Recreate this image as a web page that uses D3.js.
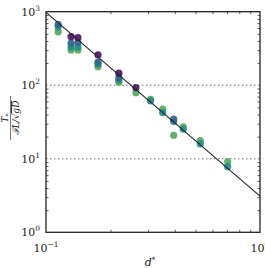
<!DOCTYPE html>
<html>
<head>
<meta charset="utf-8">
<script src="https://cdn.jsdelivr.net/npm/d3@7"></script>
<style>
    body { margin: 0; background: #fff; }
    text { font-family: "DejaVu Serif", "Liberation Serif", serif; fill: #222; }
</style>
</head>
<body>
<div id="graph"></div>
<script>
// Data
const dValues = [0.114, 0.131, 0.141, 0.175, 0.219, 0.263, 0.308, 0.351, 0.395, 0.438, 0.526, 0.706];
const purpleSeries = [null, 458, 444, 258, 146, 92.8, null, null, null, null, null, null];
const blueSeries = [672, 373, 380, 206, 127, null, null, null, 34.5, null, null, null];
const tealSeries = [621, 332, 332, 195, 118, null, 61.2, 42.4, 32, 25.2, 15.9, 7.81];
const greenSeries = [531, 302, 302, 179, 110, 79.3, 64.5, 47.2, 20.9, 27.1, 17.6, 9.13];
const yTicks = [1, 10, 100, 1000];
const yTickExp = ['0', '1', '2', '3'];
const xTicks = [0.1, 1];
const xTickExp = ['\u22121', '0'];
const fitCoef = 3.1;
const fitExp = -2.5;

const w = 265;
const h = 268;
const padL = 46, padR = 260, padT = 11.7, padB = 232.3;

const svg = d3.select('#graph')
    .append('svg')
    .attr('width', w)
    .attr('height', h);

const xScale = d3.scaleLog().domain([0.1, 1]).range([padL, padR]);
const yScale = d3.scaleLog().domain([1, 1000]).range([padB, padT]);

// dotted grid at inner decades
svg.selectAll('line.grid')
    .data([10, 100])
    .enter()
    .append('line')
    .attr('x1', padL).attr('x2', padR)
    .attr('y1', d => yScale(d)).attr('y2', d => yScale(d))
    .attr('stroke', '#444')
    .attr('stroke-width', 0.8)
    .attr('stroke-dasharray', '1.5,2.5');

// points
const series = [
    { values: greenSeries, color: '#4fa95a' },
    { values: tealSeries, color: '#23898c' },
    { values: blueSeries, color: '#33638d' },
    { values: purpleSeries, color: '#45145f' }
];

series.forEach(s => {
    const pts = dValues.map((d, i) => [d, s.values[i]]).filter(p => p[1] != null);
    svg.append('g')
        .selectAll('circle')
        .data(pts)
        .enter()
        .append('circle')
        .attr('cx', p => xScale(p[0]))
        .attr('cy', p => yScale(p[1]))
        .attr('r', 3.6)
        .attr('fill', s.color)
        .attr('fill-opacity', 0.9);
});

// fitted power law
const fitLine = d3.line()
    .x(d => xScale(d))
    .y(d => yScale(fitCoef * Math.pow(d, fitExp)));
svg.append('path')
    .datum([0.1, 1])
    .attr('d', fitLine)
    .attr('fill', 'none')
    .attr('stroke', '#222')
    .attr('stroke-width', 1.1);

// axes, ticks inward on all sides
const minorX = d3.range(2, 10).map(k => k * 0.1);
const minorY = [];
[1, 10, 100].forEach(b => d3.range(2, 10).forEach(k => minorY.push(b * k)));

const tickFmt = () => '';
svg.append('g')
    .attr('transform', `translate(0,${padB})`)
    .call(d3.axisBottom(xScale).tickValues(minorX).tickFormat(tickFmt).tickSizeInner(-2.5).tickSizeOuter(0));
svg.append('g')
    .attr('transform', `translate(0,${padT})`)
    .call(d3.axisTop(xScale).tickValues(minorX).tickFormat(tickFmt).tickSizeInner(-2.5).tickSizeOuter(0));
svg.append('g')
    .attr('transform', `translate(${padL},0)`)
    .call(d3.axisLeft(yScale).tickValues(minorY).tickFormat(tickFmt).tickSizeInner(-2.5).tickSizeOuter(0));
svg.append('g')
    .attr('transform', `translate(${padR},0)`)
    .call(d3.axisRight(yScale).tickValues(minorY).tickFormat(tickFmt).tickSizeInner(-2.5).tickSizeOuter(0));
svg.selectAll('.domain').remove();
svg.selectAll('.tick line').attr('stroke', '#333').attr('stroke-width', 0.8);

// frame
svg.append('rect')
    .attr('x', padL).attr('y', padT)
    .attr('width', padR - padL).attr('height', padB - padT)
    .attr('fill', 'none')
    .attr('stroke', '#222')
    .attr('stroke-width', 1.3);

// tick labels
yTicks.forEach((v, i) => {
    const t = svg.append('text')
        .attr('x', padL - 6)
        .attr('y', yScale(v) + 4)
        .attr('text-anchor', 'end')
        .attr('font-size', 11);
    t.append('tspan').text('10');
    t.append('tspan').attr('dy', -5).attr('font-size', 7.5).text(yTickExp[i]);
});
xTicks.forEach((v, i) => {
    const t = svg.append('text')
        .attr('x', xScale(v))
        .attr('y', 252)
        .attr('text-anchor', 'middle')
        .attr('font-size', 11);
    t.append('tspan').text('10');
    t.append('tspan').attr('dy', -5).attr('font-size', 7.5).text(xTickExp[i]);
});

// x label
const xl = svg.append('text')
    .attr('x', 150)
    .attr('y', 266)
    .attr('text-anchor', 'middle')
    .attr('font-size', 11)
    .attr('font-style', 'italic');
xl.append('tspan').text('d');
xl.append('tspan').attr('dy', -4).attr('font-size', 7).attr('font-style', 'normal').text('*');

// y label: fraction, rotated
const yl = svg.append('g')
    .attr('transform', 'translate(11,118) rotate(-90)');
const num = yl.append('text')
    .attr('x', 0).attr('y', -3)
    .attr('text-anchor', 'middle')
    .attr('font-size', 9)
    .attr('font-style', 'italic');
num.append('tspan').text('T');
num.append('tspan').attr('dy', 2).attr('font-size', 6).attr('font-style', 'normal').text('*');
yl.append('line')
    .attr('x1', -22).attr('x2', 22)
    .attr('y1', -0.5).attr('y2', -0.5)
    .attr('stroke', '#222').attr('stroke-width', 0.6);
const den = yl.append('text')
    .attr('x', 0).attr('y', 8)
    .attr('text-anchor', 'middle')
    .attr('font-size', 9)
    .attr('font-style', 'italic');
den.append('tspan').text('\u2131L/\u221A');
den.append('tspan').attr('text-decoration', 'overline').text('gD');
</script>
</body>
</html>
